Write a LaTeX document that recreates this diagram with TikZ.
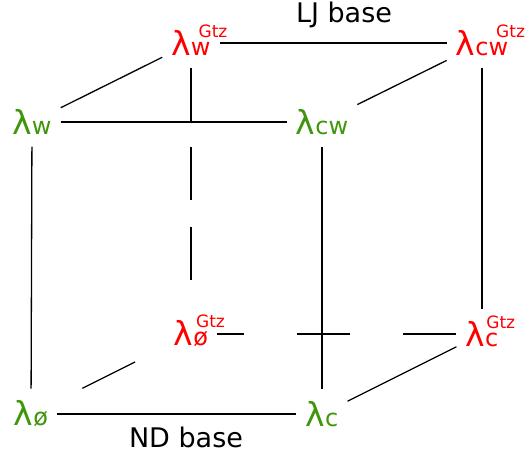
\documentclass[tikz,border=0pt]{standalone}
\usepackage{fontspec}
\setmainfont{DejaVu Sans}
\usetikzlibrary{positioning}
\definecolor{frontgreen}{RGB}{62,150,10}
\definecolor{backred}{RGB}{255,0,0}
\newcommand{\lmb}[1]{{\fontsize{33}{33}\selectfont λ}{\fontsize{24}{24}\selectfont #1}}
\newcommand{\gtz}{\rlap{\smash{\raisebox{18pt}{\kern-12pt\fontsize{17}{17}\selectfont Gtz}}}}

\begin{document}
\begin{tikzpicture}[x=1pt, y=-1pt,
  f/.style={text=frontgreen, inner xsep=9pt, inner ysep=12pt},
  g/.style={text=backred, inner xsep=9pt, inner ysep=12pt},
  e/.style={line width=1.3pt},
  t/.style={font=\fontsize{27}{30}\selectfont}]
  \useasboundingbox (0,0) rectangle (525,457);
  % front face
  \node[f] (w) at (32,122) {\lmb{w}};
  \node[f] (cw) at (322,122) {\lmb{cw}};
  \node[f] (o) at (31,414) {\lmb{ø}};
  \node[f] (c) at (322,414) {\lmb{c}};
  % back face
  \node[g] (wg) at (191,43) {\lmb{w}\gtz};
  \node[g] (cwg) at (482,43) {\lmb{cw}\gtz};
  \node[g] (og) at (191,334) {\lmb{ø}\gtz};
  \node[g] (cg) at (482,334) {\lmb{c}\gtz};
  \node[t] (lj) at (344,15) {LJ base};
  \node[t] (nd) at (186,437) {ND base};
  \draw[e] (w) -- (cw);  \draw[e] (o) -- (c);
  \draw[e] (w) -- (o);   \draw[e] (cw) -- (c);
  \draw[e] (wg) -- (cwg); \draw[e] (cwg) -- (cg);
  \draw[e] (w) -- (wg);  \draw[e] (cw) -- (cwg);
  \draw[e] (c) -- (cg);
  % hidden edges
  \draw[e, dash pattern=on 53pt off 26.5pt, shorten >=10pt] (wg) -- (og);
  \draw[e, dash pattern=on 53pt off 53pt] (cg) -- (og);
  \draw[e, dash pattern=on 0pt off 28pt on 59pt off 100pt] (o) -- (og);
\end{tikzpicture}
\end{document}
